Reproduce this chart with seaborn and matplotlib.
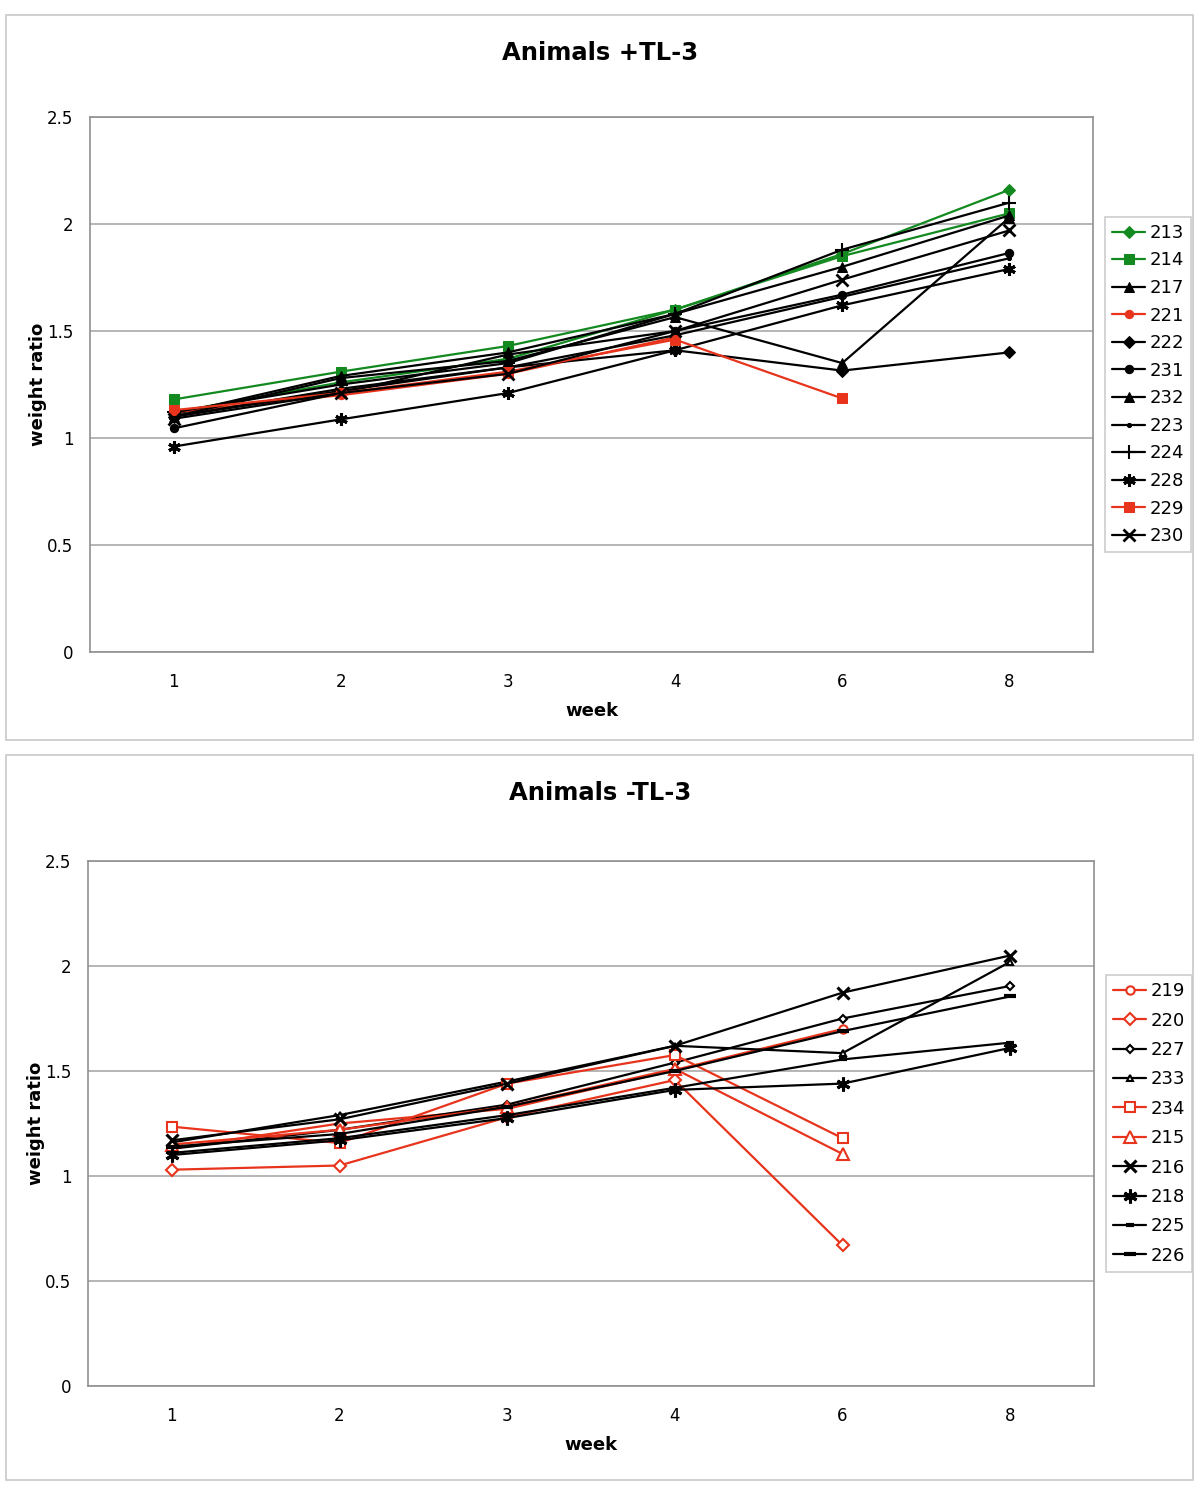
import numpy as np
import pandas as pd
import matplotlib
matplotlib.use("Agg")
import matplotlib.pyplot as plt
import seaborn as sns
from matplotlib.patches import Rectangle

sns.set_style("white")
plt.rcParams['font.family'] = ['DejaVu Sans']
plt.rcParams['text.color'] = 'black'
plt.rcParams['axes.labelcolor'] = 'black'
plt.rcParams['xtick.color'] = 'black'
plt.rcParams['ytick.color'] = 'black'

GREEN = "#138a20"
RED = "#e8341c"
BLACK = "black"

weeks = ["1", "2", "3", "4", "6", "8"]

# Animals +TL-3
top_names = ["213", "214", "217", "221", "222", "231", "232", "223", "224", "228", "229", "230"]
a213 = [1.12, 1.26, 1.37, 1.60, 1.86, 2.16]
a214 = [1.18, 1.31, 1.43, 1.60, 1.85, 2.05]
a217 = [1.11, 1.29, 1.40, 1.58, 1.80, 2.04]
a221 = [1.12, 1.20, 1.30, 1.47, np.nan, np.nan]
a222 = [1.10, 1.22, 1.33, 1.41, 1.315, 1.40]
a231 = [1.045, 1.21, 1.39, 1.50, 1.67, 1.865]
a232 = [1.10, 1.28, 1.36, 1.565, 1.35, 2.03]
a223 = [1.10, 1.23, 1.33, 1.48, 1.66, 1.84]
a224 = [1.12, 1.25, 1.35, 1.58, 1.88, 2.10]
a228 = [0.96, 1.087, 1.21, 1.41, 1.62, 1.79]
a229 = [1.13, 1.21, 1.31, 1.46, 1.185, np.nan]
a230 = [1.09, 1.21, 1.30, 1.50, 1.74, 1.97]
top_values = [a213, a214, a217, a221, a222, a231, a232, a223, a224, a228, a229, a230]

# Animals -TL-3
bot_names = ["219", "220", "227", "233", "234", "215", "216", "218", "225", "226"]
b219 = [1.13, 1.25, 1.32, 1.505, 1.70, np.nan]
b220 = [1.03, 1.05, 1.28, 1.457, 0.67, np.nan]
b227 = [1.13, 1.22, 1.34, 1.54, 1.75, 1.905]
b233 = [1.16, 1.29, 1.45, 1.62, 1.585, 2.02]
b234 = [1.235, 1.157, 1.44, 1.576, 1.18, np.nan]
b215 = [1.15, 1.22, 1.33, 1.51, 1.105, np.nan]
b216 = [1.17, 1.27, 1.44, 1.62, 1.873, 2.05]
b218 = [1.10, 1.17, 1.276, 1.41, 1.44, 1.61]
b225 = [1.11, 1.18, 1.29, 1.42, 1.555, 1.635]
b226 = [1.14, 1.20, 1.33, 1.50, 1.69, 1.855]
bot_values = [b219, b220, b227, b233, b234, b215, b216, b218, b225, b226]

STAR = (6, 2, 0)
top_styles = {
    "213": dict(color=GREEN, marker="D", ms=6),
    "214": dict(color=GREEN, marker="s", ms=7),
    "217": dict(color=BLACK, marker="^", ms=7),
    "221": dict(color=RED, marker="o", ms=6),
    "222": dict(color=BLACK, marker="D", ms=6),
    "231": dict(color=BLACK, marker="o", ms=6),
    "232": dict(color=BLACK, marker="^", ms=7),
    "223": dict(color=BLACK, marker="o", ms=3),
    "224": dict(color=BLACK, marker="+", ms=10, mew=1.5),
    "228": dict(color=BLACK, marker=STAR, ms=9, mew=2.2),
    "229": dict(color=RED, marker="s", ms=7),
    "230": dict(color=BLACK, marker="x", ms=8, mew=2),
}
bot_styles = {
    "219": dict(color=RED, marker="o", ms=6, mfc="white", mew=1.5),
    "220": dict(color=RED, marker="D", ms=6, mfc="white", mew=1.5),
    "227": dict(color=BLACK, marker="D", ms=4, mfc="white", mew=1.5),
    "233": dict(color=BLACK, marker="^", ms=5, mfc="white", mew=1.5),
    "234": dict(color=RED, marker="s", ms=7, mfc="white", mew=1.5),
    "215": dict(color=RED, marker="^", ms=8, mfc="white", mew=1.5),
    "216": dict(color=BLACK, marker="x", ms=9, mew=2.2),
    "218": dict(color=BLACK, marker=STAR, ms=10, mew=2.2),
    "225": dict(color=BLACK, marker="_", ms=6, mew=3),
    "226": dict(color=BLACK, marker="_", ms=9, mew=3),
}

fig = plt.figure(figsize=(12, 15), dpi=100)

# panel frames
for y0 in [15, 755]:
    fig.add_artist(Rectangle((6 / 1200, 1 - (y0 + 725) / 1500), 1187 / 1200, 725 / 1500,
                             transform=fig.transFigure, fill=False, edgecolor="#c8c8c8", lw=1.2))


def draw(ax, names, values, styles, title, title_y, spacing):
    for name, vals in zip(names, values):
        st = dict(styles[name])
        df = pd.DataFrame({"week": weeks, "ratio": vals})
        sns.lineplot(data=df, x="week", y="ratio", ax=ax, sort=False, lw=1.6,
                     markeredgecolor=st["color"], label=name, **st)
    ax.set_xlim(-0.5, 5.5)
    ax.set_ylim(0, 2.5)
    ax.set_yticks(np.arange(0, 2.51, 0.5))
    ax.set_yticklabels(["0", "0.5", "1", "1.5", "2", "2.5"])
    ax.set_xticks(np.arange(-0.5, 5.6, 1), minor=True)
    ax.tick_params(axis="x", which="major", length=0, pad=15, labelsize=12)
    ax.tick_params(axis="x", which="minor", length=7, color="#808080", direction="out")
    ax.tick_params(axis="y", length=6, color="#808080", direction="out", labelsize=12, pad=6)
    ax.yaxis.grid(True, color="#b0b0b0", lw=1.3)
    ax.set_axisbelow(True)
    for sp in ax.spines.values():
        sp.set_color("#909090")
        sp.set_linewidth(1.2)
    ax.set_xlabel("week", fontsize=13, fontweight="bold", labelpad=8)
    ax.set_ylabel("weight ratio", fontsize=13, fontweight="bold", labelpad=0)
    leg = ax.legend(loc="center left", bbox_to_anchor=(1.012, 0.5), fontsize=13,
                    frameon=True, fancybox=False, edgecolor="#c0c0c0", handlelength=1.8,
                    labelspacing=spacing, borderpad=0.4, handletextpad=0.25, borderaxespad=0)
    leg.get_frame().set_linewidth(1.2)
    fig.text(0.5, 1 - title_y / 1500, title, ha="center", va="center",
             fontsize=17.5, fontweight="bold")


ax1 = fig.add_axes([90 / 1200, 1 - 652 / 1500, 1003 / 1200, 535 / 1500])
draw(ax1, top_names, top_values, top_styles, "Animals +TL-3", 53, 0.53)

ax2 = fig.add_axes([88 / 1200, 1 - 1386 / 1500, 1006 / 1200, 525 / 1500])
draw(ax2, bot_names, bot_values, bot_styles, "Animals -TL-3", 793, 0.63)

fig.savefig("out.png", dpi=100)
